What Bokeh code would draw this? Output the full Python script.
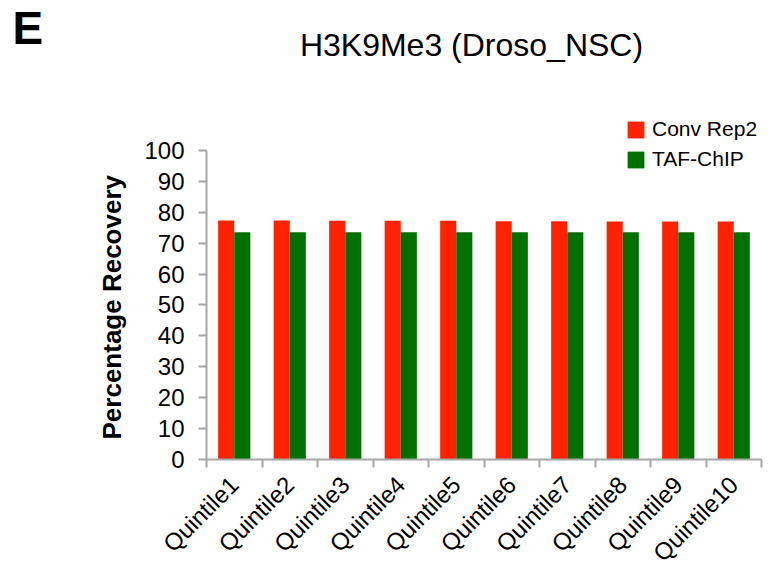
import math
from bokeh.plotting import figure
from bokeh.models import (Range1d, LinearAxis, FixedTicker, SingleIntervalTicker,
                          Legend, LegendItem, Label, Title, ColumnDataSource)
from bokeh.embed import file_html
from bokeh.resources import INLINE

quintiles = ["Quintile1", "Quintile2", "Quintile3", "Quintile4", "Quintile5",
             "Quintile6", "Quintile7", "Quintile8", "Quintile9", "Quintile10"]
conv_rep2 = [77.3, 77.3, 77.2, 77.2, 77.2, 77.1, 77.1, 77.0, 77.0, 77.0]
taf_chip = [73.5, 73.5, 73.5, 73.5, 73.5, 73.5, 73.5, 73.5, 73.5, 73.5]
series_names = ["Conv Rep2", "TAF-ChIP"]
series_colors = ["#FF2200", "#007000"]

FONT = "Liberation Sans"
AXIS_GRAY = "#A6A6A6"
BAR_W = 0.29
Y_TOP = 142  # headroom above 100 holds the title and legend

n = len(quintiles)
centers = [i + 0.5 for i in range(n)]
bounds = list(range(n + 1))

p = figure(width=774, height=579, output_backend="svg", toolbar_location=None,
           x_range=Range1d(0, n), y_range=Range1d(0, Y_TOP), x_axis_location=None,
           min_border_left=206, min_border_right=13, min_border_top=20,
           min_border_bottom=120)
p.outline_line_color = None
p.xgrid.visible = False
p.ygrid.visible = False
p.background_fill_color = "white"
p.border_fill_color = "white"

source = ColumnDataSource(dict(
    x_conv=[c - BAR_W / 2 for c in centers],
    x_taf=[c + BAR_W / 2 for c in centers],
    conv=conv_rep2, taf=taf_chip))
r1 = p.vbar(x="x_conv", top="conv", width=BAR_W, source=source,
            fill_color=series_colors[0], line_color=None)
r2 = p.vbar(x="x_taf", top="taf", width=BAR_W, source=source,
            fill_color=series_colors[1], line_color=None)

# y axis, drawn only over 0-100
ya = p.yaxis[0]
ya.bounds = (0, 100)
ya.ticker = SingleIntervalTicker(interval=10)
ya.minor_tick_line_color = None
ya.axis_line_color = AXIS_GRAY
ya.axis_line_width = 2
ya.major_tick_line_color = AXIS_GRAY
ya.major_tick_line_width = 2
ya.major_tick_out = 8
ya.major_tick_in = 0
ya.major_label_standoff = 14
ya.major_label_text_font = FONT
ya.major_label_text_font_size = "24px"
ya.major_label_text_color = "black"

# y title, placed along the 0-100 span
p.add_layout(Title(text="Percentage Recovery", align="left", offset=20, standoff=30,
                   text_font=FONT, text_font_style="bold", text_font_size="26px",
                   text_color="black"), "left")

# x axis: labels under each pair, tick marks between pairs
xa = LinearAxis(ticker=FixedTicker(ticks=centers, minor_ticks=bounds),
                major_label_overrides={c: q for c, q in zip(centers, quintiles)})
xa.axis_line_color = AXIS_GRAY
xa.axis_line_width = 2
xa.major_tick_line_color = None
xa.major_tick_out = 0
xa.major_tick_in = 0
xa.minor_tick_line_color = AXIS_GRAY
xa.minor_tick_line_width = 2
xa.minor_tick_out = 8
xa.minor_tick_in = 0
xa.major_label_orientation = math.pi / 4
xa.major_label_standoff = 13
xa.major_label_text_font = FONT
xa.major_label_text_font_size = "24px"
xa.major_label_text_color = "black"
p.add_layout(xa, "below")

legend = Legend(items=[LegendItem(label=series_names[0], renderers=[r1]),
                       LegendItem(label=series_names[1], renderers=[r2])],
                location=(419, 288))
legend.border_line_color = None
legend.background_fill_alpha = 0
legend.padding = 0
legend.margin = 0
legend.spacing = 6
legend.glyph_width = 21
legend.glyph_height = 21
legend.label_standoff = 6
legend.label_text_font = FONT
legend.label_text_font_size = "21px"
legend.label_text_color = "black"
p.add_layout(legend)

p.add_layout(Label(x=265, y=415, x_units="screen", y_units="screen",
                   text="H3K9Me3 (Droso_NSC)", text_align="center",
                   text_baseline="alphabetic", text_font=FONT,
                   text_font_size="32px", text_color="black"))

# panel letter in the top-left corner
p.add_layout(Title(text="E", align="left", offset=-194, standoff=-67,
                   text_font=FONT, text_font_style="bold", text_font_size="46px",
                   text_color="black"), "above")

open("out.html", "w").write(file_html(p, INLINE))
